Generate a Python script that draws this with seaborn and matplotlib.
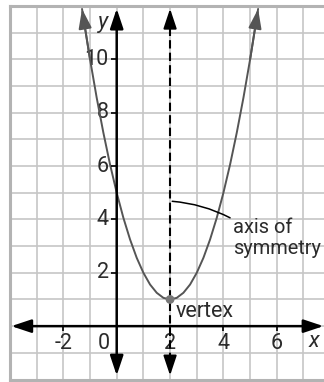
import matplotlib.pyplot as plt
import seaborn as sns

# parabola (vertex at 2, 1; crosses y axis at 5)
CURVE_X = [-1.3, -1.25, -1.0, -0.75, -0.5, -0.25, 0.0, 0.25, 0.5, 0.75, 1.0, 1.25, 1.5, 1.75, 2.0,
           2.25, 2.5, 2.75, 3.0, 3.25, 3.5, 3.75, 4.0, 4.25, 4.5, 4.75, 5.0, 5.25, 5.3]
CURVE_Y = [11.89, 11.56, 10.0, 8.56, 7.25, 6.06, 5.0, 4.06, 3.25, 2.56, 2.0, 1.56, 1.25, 1.06, 1.0,
           1.06, 1.25, 1.56, 2.0, 2.56, 3.25, 4.06, 5.0, 6.06, 7.25, 8.56, 10.0, 11.56, 11.89]

VERTEX_X = [2]
VERTEX_Y = [1]
SYMMETRY_X = 2

X_TICKS = [-2, 2, 4, 6]
Y_TICKS = [2, 4, 6, 8, 10]

TEXT_COLOR = "#2b2b2b"
CURVE_COLOR = "#555555"
GRID_COLOR = "#c6c6c6"
FONT_SIZE = 15.5


def arrow(ax, start, end, color="black", lw=1.8, style="-|>"):
    ax.annotate(
        "",
        xy=end,
        xytext=start,
        arrowprops=dict(
            arrowstyle=f"{style},head_length=0.6,head_width=0.2",
            mutation_scale=20,
            color=color,
            lw=lw,
            shrinkA=0,
            shrinkB=0,
        ),
        zorder=5,
    )


def main():
    sns.set_theme(style="white")
    plt.rcParams["font.family"] = ["Roboto", "DejaVu Sans"]

    fig = plt.figure(figsize=(3.24, 3.82), dpi=100)
    ax = fig.add_axes([10 / 324, 2.5 / 382, 314 / 324, 373.5 / 382])
    ax.set_xlim(-4, 7.77)
    ax.set_ylim(-2, 12)

    # graph paper
    ax.set_xticks(range(-4, 8))
    ax.set_yticks(range(-2, 13))
    ax.grid(True, color=GRID_COLOR, linewidth=1.2)
    ax.set_axisbelow(True)
    ax.tick_params(length=0, labelbottom=False, labelleft=False)
    for side in ["left", "top", "bottom"]:
        ax.spines[side].set_color("#b3b3b3")
        ax.spines[side].set_linewidth(2.2)
    ax.spines["right"].set_visible(False)

    # coordinate axes
    arrow(ax, (-3.95, 0), (7.75, 0), style="<|-|>")
    arrow(ax, (0, -1.85), (0, 11.9), style="<|-|>")
    ax.vlines(X_TICKS, -0.2, 0, color="black", linewidth=1.2, zorder=4)
    ax.hlines(Y_TICKS, -0.22, 0, color="black", linewidth=1.2, zorder=4)

    for value in X_TICKS:
        ax.text(value, -0.66, str(value), ha="center", va="center", fontsize=FONT_SIZE, color=TEXT_COLOR)
    ax.text(-0.47, -0.66, "0", ha="center", va="center", fontsize=FONT_SIZE, color=TEXT_COLOR)
    for value in Y_TICKS:
        ax.text(-0.3, value, str(value), ha="right", va="center", fontsize=FONT_SIZE, color=TEXT_COLOR)
    ax.text(-0.5, 11.4, "y", ha="center", va="center", fontsize=16, style="italic", color=TEXT_COLOR)
    ax.text(7.38, -0.56, "x", ha="center", va="center", fontsize=16, style="italic", color=TEXT_COLOR)

    # axis of symmetry
    ax.vlines(SYMMETRY_X, -1.3, 11.3, color="black", linewidth=1.5, linestyles=(0, (4, 2)), zorder=4)
    arrow(ax, (SYMMETRY_X, 11.3), (SYMMETRY_X, 11.9), lw=1.5)
    arrow(ax, (SYMMETRY_X, -1.25), (SYMMETRY_X, -1.85), lw=1.5)

    # parabola
    sns.lineplot(x=CURVE_X, y=CURVE_Y, color=CURVE_COLOR, linewidth=1.4, ax=ax, zorder=3)
    arrow(ax, (CURVE_X[2], CURVE_Y[2]), (CURVE_X[0], CURVE_Y[0]), color=CURVE_COLOR, lw=1.4)
    arrow(ax, (CURVE_X[-3], CURVE_Y[-3]), (CURVE_X[-1], CURVE_Y[-1]), color=CURVE_COLOR, lw=1.4)
    sns.scatterplot(x=VERTEX_X, y=VERTEX_Y, color="#777777", s=40, edgecolor="none", ax=ax, zorder=6)

    ax.text(2.2, 0.56, "vertex", ha="left", va="center", fontsize=FONT_SIZE, color=TEXT_COLOR)
    ax.text(4.36, 3.31, "axis of\nsymmetry", ha="left", va="center", fontsize=14.4,
            color=TEXT_COLOR, linespacing=1.1)
    ax.annotate(
        "",
        xy=(2.08, 4.68),
        xytext=(4.25, 4.06),
        arrowprops=dict(arrowstyle="-", color="black", lw=1.1, shrinkA=0, shrinkB=0,
                        connectionstyle="arc3,rad=0.1"),
    )

    fig.savefig("out.png", dpi=100)
    plt.close(fig)


if __name__ == "__main__":
    main()
